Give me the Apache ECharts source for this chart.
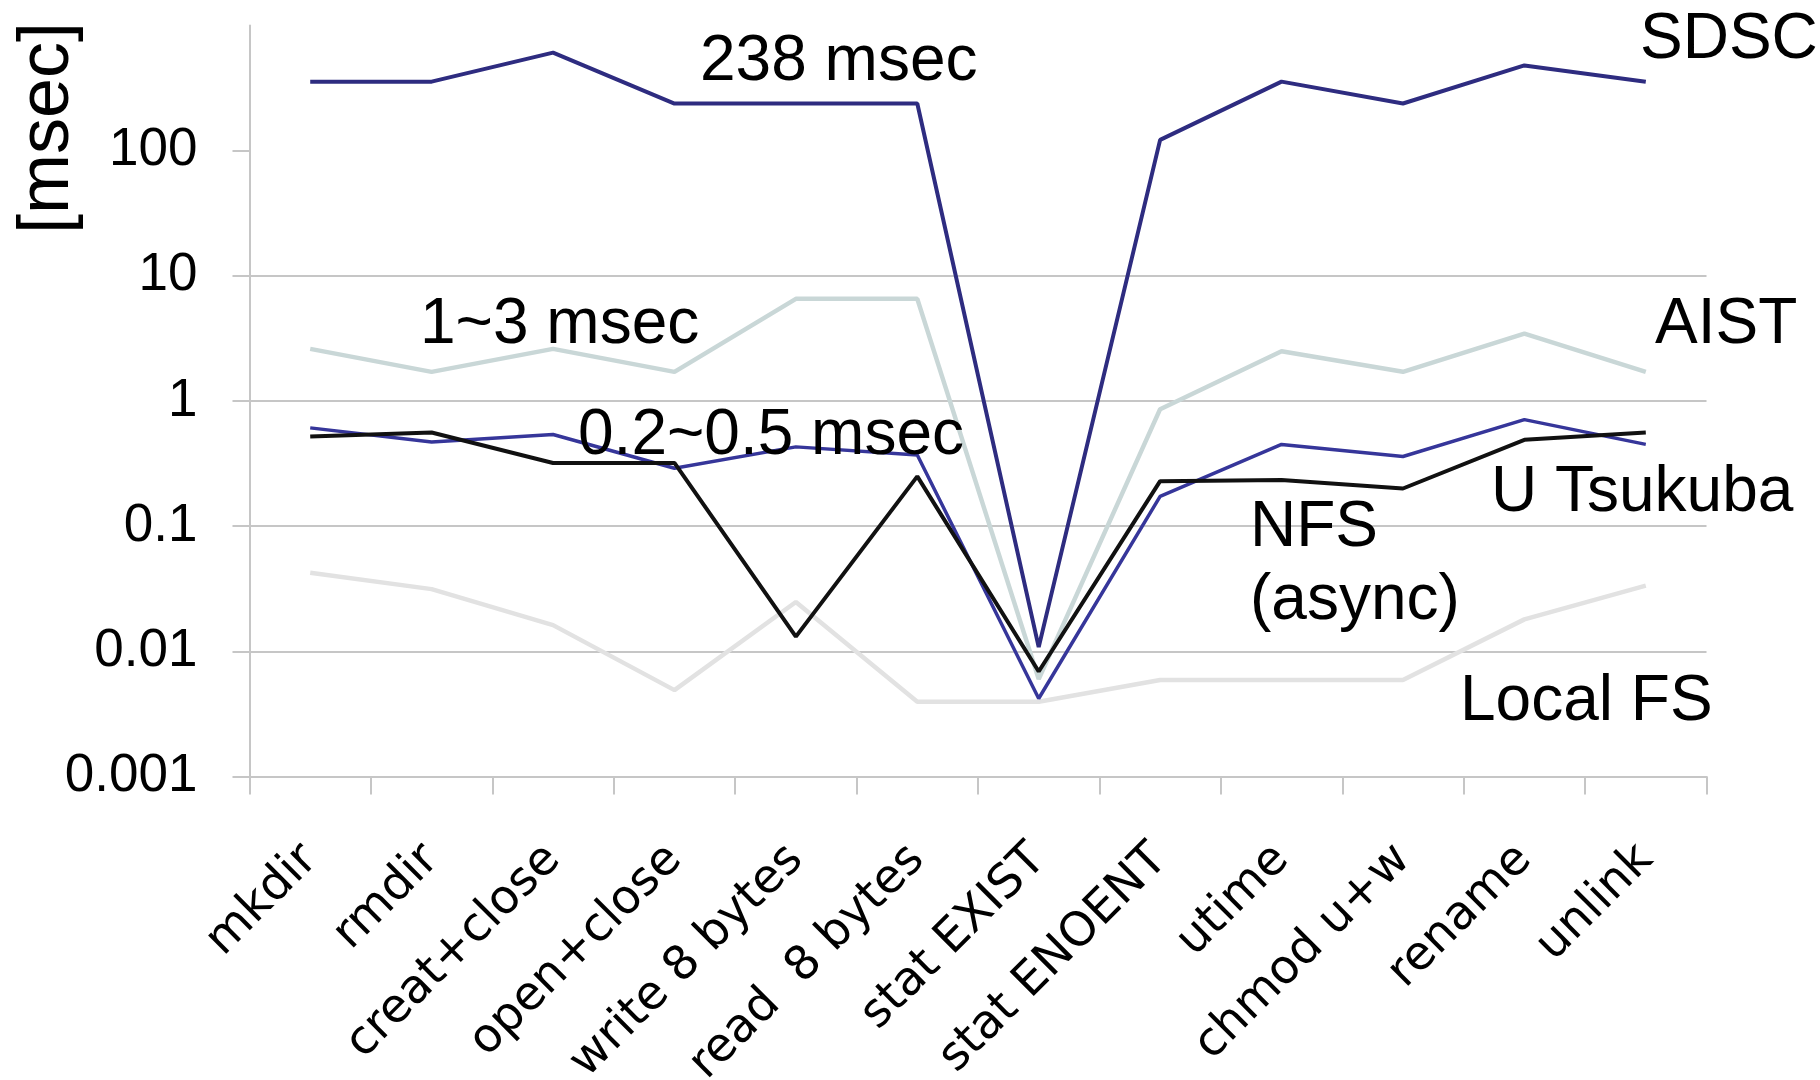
<!DOCTYPE html>
<html>
<head>
<meta charset="utf-8">
<script src="https://cdn.jsdelivr.net/npm/echarts@6/dist/echarts.min.js"></script>
<style>
  html, body { margin: 0; padding: 0; background: #fff; }
  #chart { width: 1820px; height: 1080px; }
</style>
</head>
<body>
<div id="chart"></div>
<script>
// operations on the x axis
const operations = ['mkdir', 'rmdir', 'creat+close', 'open+close', 'write 8 bytes', 'read  8 bytes',
  'stat EXIST', 'stat ENOENT', 'utime', 'chmod u+w', 'rename', 'unlink'];

// latency in msec
const sdsc     = [356, 356, 607, 238, 238, 238, 0.0108, 122, 356, 238, 480, 356];
const aist     = [2.61, 1.71, 2.61, 1.71, 6.55, 6.55, 0.006, 0.86, 2.5, 1.71, 3.45, 1.71];
const tsukuba  = [0.61, 0.47, 0.54, 0.29, 0.43, 0.37, 0.0042, 0.173, 0.45, 0.36, 0.71, 0.45];
const nfs      = [0.52, 0.56, 0.32, 0.32, 0.0131, 0.25, 0.0069, 0.229, 0.234, 0.2, 0.49, 0.56];
const localFs  = [0.0424, 0.0314, 0.0162, 0.0049, 0.0248, 0.00395, 0.00395, 0.0059, 0.0059, 0.0059, 0.018, 0.0335];

const yTicks = [0.001, 0.01, 0.1, 1, 10, 100];

const gridColor = '#c6c6c6';
const labelFont = 'Liberation Sans, Arial, sans-serif';

const chart = echarts.init(document.getElementById('chart'));

// free-floating labels drawn on the chart
function note(text, x, y) {
    return {
        type: 'text',
        x: x,
        y: y,
        z: 100,
        style: {
            text: text,
            fontFamily: labelFont,
            fontSize: 64,
            fill: '#000',
            textAlign: 'left',
            textVerticalAlign: 'middle'
        }
    };
}

function lineSeries(name, data, color, width, z) {
    return {
        name: name,
        type: 'line',
        data: data,
        symbol: 'none',
        z: z,
        lineStyle: { color: color, width: width },
        emphasis: { disabled: true }
    };
}

const option = {
    animation: false,
    grid: { left: 249.5, right: 113.5, top: 25.5, bottom: 303.5, containLabel: false, outerBoundsMode: 'none' },
    xAxis: {
        type: 'category',
        data: operations,
        boundaryGap: true,
        axisLine: { show: true, lineStyle: { color: gridColor, width: 2 } },
        axisTick: { show: true, interval: 0, length: 18, lineStyle: { color: gridColor, width: 2 } },
        axisLabel: {
            interval: 0,
            rotate: 45,
            margin: 76,
            fontFamily: 'DejaVu Sans, Verdana, sans-serif',
            fontSize: 47,
            color: '#000'
        }
    },
    yAxis: {
        type: 'log',
        logBase: 10,
        min: 0.001,
        max: 1000,
        axisLine: { show: true, lineStyle: { color: gridColor, width: 2 } },
        axisTick: { show: true, length: 17, customValues: yTicks, lineStyle: { color: gridColor, width: 2 } },
        splitLine: { show: true, showMaxLine: false, lineStyle: { color: gridColor, width: 2 } },
        axisLabel: {
            showMaxLabel: false,
            margin: 52,
            fontFamily: labelFont,
            fontSize: 53,
            color: '#000',
            formatter: v => String(v)
        }
    },
    series: [
        lineSeries('Local FS', localFs, '#e2e2e2', 4.5, 1),
        lineSeries('AIST', aist, '#c9d7d7', 4.5, 2),
        lineSeries('U Tsukuba', tsukuba, '#36369a', 3.5, 3),
        lineSeries('NFS (async)', nfs, '#111111', 4, 4),
        lineSeries('SDSC', sdsc, '#2e2c80', 4, 5)
    ],
    graphic: [
        {
            type: 'text',
            x: 48,
            y: 128,
            rotation: Math.PI / 2,
            style: {
                text: '[msec]',
                fontFamily: labelFont,
                fontSize: 72,
                fill: '#000',
                textAlign: 'center',
                textVerticalAlign: 'middle'
            }
        },
        note('238 msec', 700, 62),
        note('1~3 msec', 420, 325),
        note('0.2~0.5 msec', 578, 436),
        note('SDSC', 1640, 40),
        note('AIST', 1655, 325),
        note('U Tsukuba', 1491, 493),
        note('NFS', 1250, 528),
        note('(async)', 1250, 601),
        note('Local FS', 1460, 702)
    ]
};

chart.setOption(option);
window.addEventListener('resize', () => chart.resize());
</script>
</body>
</html>
